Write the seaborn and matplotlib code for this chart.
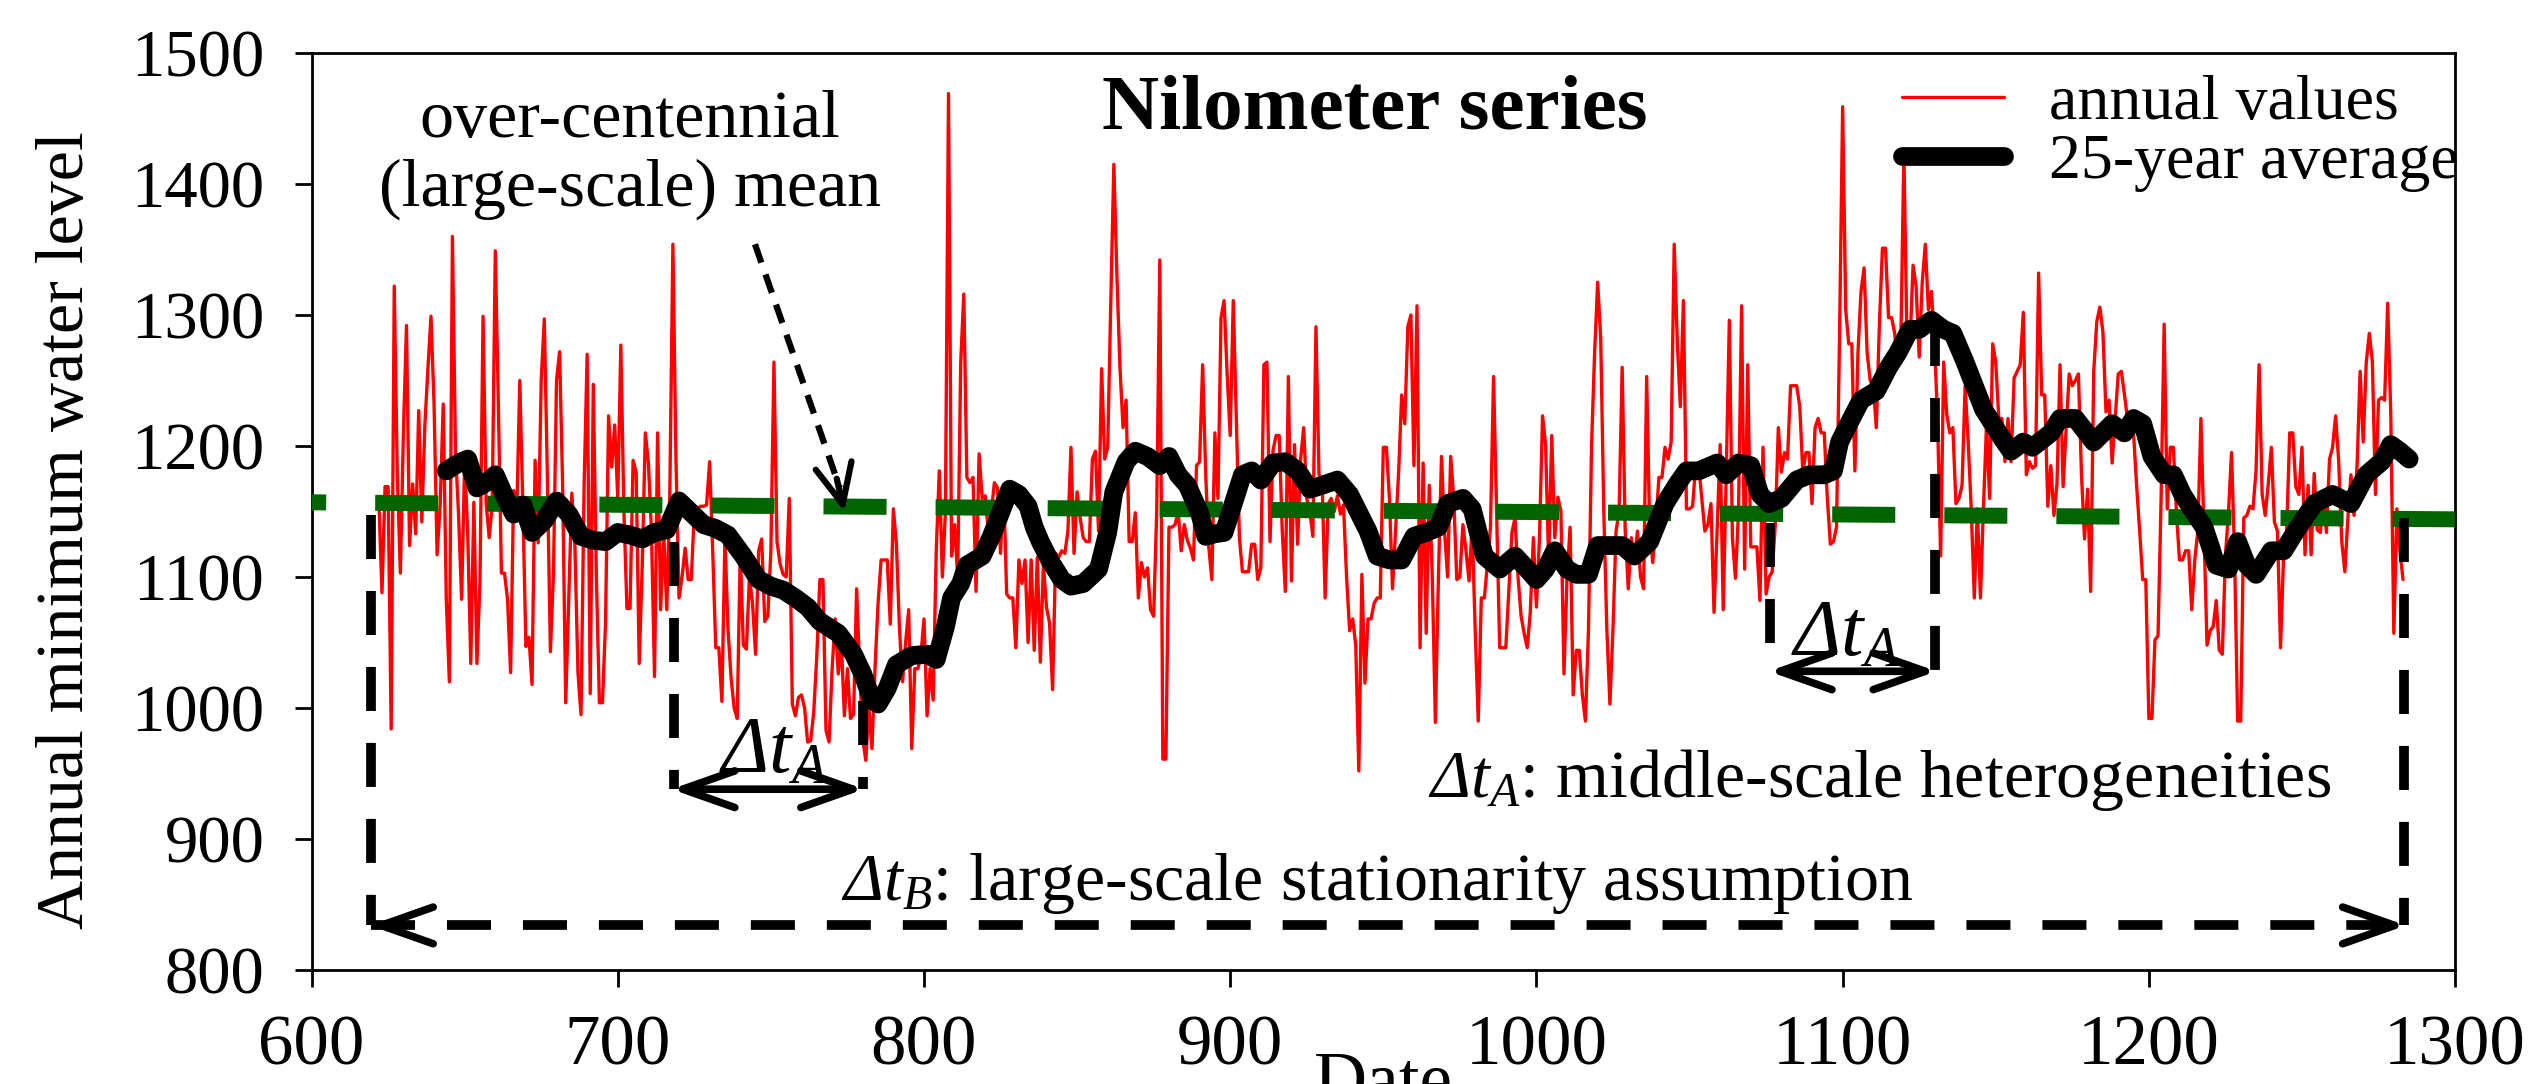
import numpy as np
import pandas as pd
import seaborn as sns
import matplotlib
matplotlib.use('Agg')
import matplotlib.pyplot as plt

# annual minimum levels, one value per year starting at 622
annual_level = [
    1157, 1088, 1169, 1169, 984, 1322, 1178, 1103, 1211, 1292, 1124, 1171, 1133, 1227, 1142, 1216, 1259, 1299, 1232, 1117,
    1155, 1232, 1083, 1020, 1360, 1196, 1148, 1083, 1189, 1133, 1034, 1157, 1034, 1097, 1299, 1157, 1130, 1155, 1349, 1232,
    1103, 1103, 1083, 1027, 1166, 1148, 1250, 1155, 1047, 1054, 1018, 1189, 1126, 1250, 1297, 1178, 1043, 1103, 1250, 1272,
    1169, 1004, 1083, 1164, 1124, 1027, 995, 1169, 1270, 1011, 1247, 1101, 1004, 1004, 1065, 1223, 1184, 1216, 1160, 1277,
    1150, 1076, 1076, 1189, 1180, 1034, 1110, 1210, 1187, 1135, 1024, 1210, 1075, 1133, 1075, 1165, 1354, 1190, 1084, 1100,
    1122, 1098, 1098, 1150, 1152, 1154, 1154, 1155, 1188, 1120, 1046, 1046, 1005, 1130, 1060, 1023, 1000, 992, 1120, 1048,
    1045, 1100, 1080, 1041, 1120, 1129, 1066, 1070, 1120, 1264, 1127, 1110, 1102, 1100, 1160, 1003, 994, 1008, 1010, 1000,
    974, 975, 997, 1040, 1098, 1098, 983, 974, 1030, 1068, 1026, 1050, 994, 1030, 992, 995, 1091, 1030, 976, 960,
    1000, 969, 1030, 1080, 1113, 1113, 1113, 1064, 1152, 1125, 1060, 1020, 1050, 1075, 969, 1030, 1030, 1040, 1068, 994,
    1030, 1006, 1120, 1181, 1100, 1150, 1469, 1116, 1140, 1100, 1264, 1316, 1176, 1172, 1176, 1089, 1194, 1160, 1162, 1135,
    1150, 1172, 1168, 1118, 1170, 1087, 1084, 1084, 1046, 1113, 1095, 1113, 1050, 1113, 1044, 1115, 1035, 1110, 1077, 1065,
    1014, 1118, 1115, 1120, 1118, 1135, 1199, 1118, 1165, 1145, 1130, 1127, 1127, 1190, 1196, 1135, 1259, 1190, 1199, 1310,
    1415, 1330, 1260, 1214, 1235, 1127, 1127, 1149, 1084, 1111, 1100, 1107, 1075, 1070, 1150, 1342, 961, 961, 1138, 1138,
    1140, 1150, 1120, 1140, 1128, 1122, 1113, 1185, 1188, 1262, 1178, 1123, 1098, 1210, 1160, 1298, 1311, 1255, 1208, 1311,
    1220, 1130, 1104, 1104, 1104, 1125, 1125, 1098, 1107, 1262, 1264, 1127, 1197, 1208, 1208, 1135, 1089, 1253, 1097, 1201,
    1125, 1190, 1214, 1160, 1150, 1131, 1291, 1178, 1175, 1084, 1156, 1160, 1150, 1162, 1148, 1155, 1100, 1059, 1068, 1048,
    952, 1102, 1019, 1068, 1068, 1080, 1084, 1084, 1199, 1199, 1160, 1091, 1135, 1180, 1239, 1217, 1291, 1300, 1185, 1307,
    1046, 1187, 1057, 1170, 1100, 989, 1100, 1192, 1135, 1100, 1192, 1160, 1098, 1100, 1140, 1120, 1097, 1140, 1060, 990,
    1084, 1084, 1110, 1138, 1253, 1150, 1046, 1046, 1046, 1090, 1134, 1145, 1100, 1070, 1057, 1046, 1073, 1130, 1077, 1130,
    1223, 1201, 1110, 1208, 1130, 1161, 1150, 1026, 1100, 1138, 1010, 1044, 1044, 1010, 990, 1060, 1200, 1271, 1325, 1282,
    1150, 1060, 1003, 1060, 1135, 1150, 1260, 1135, 1091, 1130, 1113, 1135, 1100, 1091, 1253, 1135, 1111, 1140, 1176, 1176,
    1199, 1190, 1203, 1354, 1280, 1230, 1311, 1152, 1152, 1154, 1185, 1185, 1160, 1135, 1140, 1156, 1073, 1135, 1201, 1075,
    1180, 1296, 1130, 1099, 1150, 1307, 1106, 1262, 1123, 1123, 1123, 1082, 1199, 1087, 1100, 1104, 1140, 1214, 1180, 1195,
    1190, 1246, 1246, 1246, 1230, 1180, 1195, 1195, 1156, 1214, 1221, 1210, 1210, 1160, 1125, 1127, 1138, 1286, 1459, 1304,
    1278, 1278, 1181, 1271, 1318, 1336, 1271, 1250, 1246, 1214, 1293, 1351, 1351, 1298, 1298, 1286, 1264, 1278, 1424, 1282,
    1278, 1338, 1322, 1268, 1325, 1354, 1304, 1318, 1278, 1221, 1116, 1264, 1224, 1210, 1214, 1156, 1160, 1170, 1246, 1203,
    1152, 1084, 1152, 1084, 1154, 1217, 1160, 1278, 1264, 1221, 1221, 1188, 1221, 1188, 1252, 1257, 1262, 1302, 1178, 1188,
    1183, 1185, 1332, 1239, 1239, 1154, 1185, 1147, 1171, 1262, 1169, 1214, 1255, 1246, 1250, 1255, 1178, 1129, 1167, 1089,
    1257, 1295, 1306, 1287, 1226, 1235, 1187, 1221, 1255, 1257, 1240, 1221, 1210, 1210, 1170, 1135, 1098, 1098, 992, 992,
    1052, 1055, 1160, 1293, 1152, 1199, 1199, 1150, 1113, 1113, 1120, 1120, 1075, 1113, 1135, 1221, 1135, 1048, 1059, 1062,
    1082, 1044, 1041, 1116, 1149, 1195, 1116, 990, 990, 1145, 1147, 1154, 1152, 1181, 1262, 1163, 1147, 1171, 1199, 1142,
    1135, 1046, 1116, 1135, 1210, 1210, 1169, 1163, 1199, 1117, 1170, 1117, 1179, 1136, 1134, 1160, 1134, 1190, 1199, 1223,
    1188, 1127, 1104, 1145, 1178, 1147, 1185, 1257, 1203, 1264, 1286, 1264, 1163, 1235, 1237, 1235, 1309, 1225, 1057, 1152,
    1120, 1098,
]
annual_years = np.arange(622, 622 + len(annual_level))

# 25-year average
avg_years = [644, 648, 651, 654, 657, 660, 663, 666, 669, 672, 676, 680, 684, 688, 692, 696, 700, 704, 708, 712,
             716, 720, 724, 728, 732, 736, 741, 746, 750, 754, 758, 762, 766, 772, 777, 780, 783, 785, 788, 791,
             796, 801, 804, 807, 809, 812, 814, 819, 822, 825, 828, 831, 834, 836, 838, 841, 845, 848, 852, 857,
             860, 862, 866, 869, 873, 877, 880, 883, 886, 890, 892, 895, 898, 901, 904, 907, 910, 914, 918, 922,
             926, 930, 935, 939, 942, 945, 948, 952, 956, 960, 964, 968, 971, 976, 979, 983, 988, 993, 997, 1000,
             1003, 1006, 1010, 1013, 1017, 1020, 1025, 1028, 1032, 1037, 1042, 1046, 1049, 1053, 1059, 1062, 1066, 1070, 1073, 1076,
             1080, 1085, 1089, 1094, 1097, 1099, 1102, 1106, 1111, 1115, 1118, 1122, 1125, 1129, 1133, 1136, 1140, 1143, 1146, 1149,
             1152, 1155, 1159, 1162, 1168, 1171, 1176, 1182, 1185, 1188, 1192, 1195, 1198, 1201, 1205, 1208, 1211, 1214, 1218, 1220,
             1222, 1226, 1229, 1232, 1235, 1240, 1244, 1248, 1254, 1260, 1266, 1271, 1276, 1279, 1282, 1285]
avg_level = [1181, 1187, 1190, 1168, 1172, 1178, 1162, 1148, 1155, 1134, 1143, 1158, 1148, 1131, 1128, 1127, 1134, 1132, 1129, 1134,
             1136, 1158, 1149, 1140, 1137, 1132, 1116, 1098, 1093, 1090, 1084, 1077, 1066, 1057, 1041, 1026, 1006, 1003, 1015, 1033,
             1040, 1041, 1037, 1062, 1084, 1095, 1109, 1116, 1131, 1149, 1167, 1163, 1154, 1138, 1127, 1113, 1098, 1093, 1095, 1106,
             1134, 1165, 1188, 1196, 1192, 1185, 1192, 1178, 1170, 1149, 1131, 1133, 1134, 1156, 1178, 1181, 1174, 1187, 1188, 1181,
             1167, 1170, 1174, 1163, 1149, 1135, 1116, 1113, 1113, 1131, 1134, 1138, 1156, 1160, 1152, 1116, 1106, 1116, 1106, 1098,
             1106, 1120, 1106, 1102, 1102, 1124, 1124, 1124, 1116, 1127, 1156, 1171, 1181, 1181, 1187, 1178, 1187, 1185, 1163, 1156,
             1160, 1174, 1178, 1178, 1181, 1203, 1217, 1235, 1242, 1260, 1271, 1289, 1289, 1296, 1289, 1286, 1264, 1246, 1228, 1217,
             1206, 1196, 1203, 1199, 1210, 1221, 1221, 1203, 1210, 1217, 1210, 1221, 1217, 1192, 1178, 1178, 1163, 1152, 1138, 1124,
             1109, 1106, 1127, 1109, 1102, 1120, 1120, 1135, 1156, 1163, 1156, 1178, 1188, 1201, 1196, 1190]

# over-centennial mean (green dashed line)
mean_years = [600, 1300]
mean_level = [1157, 1144]

x_ticks = [600, 700, 800, 900, 1000, 1100, 1200, 1300]
y_ticks = [800, 900, 1000, 1100, 1200, 1300, 1400, 1500]

sns.set_style('ticks')
plt.rcParams['font.family'] = ['Liberation Serif', 'DejaVu Serif']
plt.rcParams['mathtext.fontset'] = 'custom'
plt.rcParams['mathtext.rm'] = 'Liberation Serif:italic'
plt.rcParams['mathtext.it'] = 'Liberation Serif:italic'
plt.rcParams['lines.scale_dashes'] = False
plt.rcParams['text.color'] = 'black'
plt.rcParams['axes.labelcolor'] = 'black'

fig = plt.figure(figsize=(25.31, 10.84), dpi=100)
ax = fig.add_axes([0.1231, 0.1052, 0.8469, 0.8459])

annual = pd.DataFrame({'year': annual_years, 'level': annual_level})
avg = pd.DataFrame({'year': avg_years, 'level': avg_level})
mean = pd.DataFrame({'year': mean_years, 'level': mean_level})

sns.lineplot(data=annual, x='year', y='level', color='red', lw=2.4, estimator=None, ax=ax, zorder=2)
red_line = ax.lines[-1]
sns.lineplot(data=mean, x='year', y='level', color='#006400', lw=11.5, estimator=None, ax=ax, zorder=3,
             linestyle=(34.9, (45.4, 35.3)))
sns.lineplot(data=avg, x='year', y='level', color='black', lw=13.5, estimator=None, ax=ax, zorder=4,
             solid_capstyle='round', solid_joinstyle='round')
black_line = ax.lines[-1]

ax.set_xlim(600, 1300)
ax.set_ylim(800, 1500)
ax.set_xticks(x_ticks)
ax.set_yticks(y_ticks)
ax.tick_params(direction='out', length=12, width=2, colors='black')
ax.tick_params(axis='y', labelsize=48, pad=22)
ax.tick_params(axis='x', labelsize=51, pad=20)
for s in ax.spines.values():
    s.set_linewidth(2)
    s.set_color('black')

ax.set_ylabel('Annual minimum water level', fontsize=49)
ax.yaxis.set_label_coords(-0.1, 0.48)
ax.set_xlabel('Date', fontsize=53)
ax.xaxis.set_label_coords(0.5, -0.088)

ax.text(0.496, 0.938, 'Nilometer series', transform=ax.transAxes, ha='center', va='center',
        fontsize=57, fontweight='bold')

ax.legend(handles=[red_line, black_line], labels=['annual values', '25-year average'],
          loc='upper right', bbox_to_anchor=(1.003, 0.98), frameon=False, fontsize=46,
          handlelength=1.6, handletextpad=0.7, labelspacing=0.0, borderaxespad=0.0, borderpad=0.05)

# dashed markers and arrows
dash_kw = dict(color='black', lw=7, linestyle=(0, (31.7, 23)), solid_capstyle='butt', zorder=5)
arrow_kw = dict(lw=5.5, color='black', shrinkA=0, shrinkB=0, mutation_scale=22,
                capstyle='round', joinstyle='round')


def head(tip, tail, lw=5.5, hl=1.7, hw=0.6):
    ax.annotate('', xy=tip, xytext=tail,
                arrowprops=dict(arrow_kw, arrowstyle=f'->,head_length={hl},head_width={hw}', lw=lw),
                zorder=6)


# large-scale span
ax.plot([619.5, 619.5], [1147, 834], **dash_kw)
ax.plot([1283.3, 1283.3], [1145, 834], **dash_kw)
ax.plot([619.5, 1283.3], [834, 834], **dash_kw)
head((619, 834), (628, 834))
head((1284, 834), (1275, 834))
ax.text(948, 866, r'$\Delta t_B$: large-scale stationarity assumption', ha='center', va='center', fontsize=49)

# middle-scale spans
ax.plot([718.2, 718.2], [1127, 938], **dash_kw)
ax.plot([780, 780], [1005, 938], **dash_kw)
ax.annotate('', xy=(717.5, 938), xytext=(780.5, 938),
            arrowprops=dict(arrow_kw, arrowstyle='<->,head_length=1.7,head_width=0.6'), zorder=6)
ax.text(751, 965, r'$\Delta t_A$', ha='center', va='center', fontsize=58)

ax.plot([1076.3, 1076.3], [1141, 1028], **dash_kw)
ax.plot([1130.2, 1130.2], [1295, 1028], **dash_kw)
ax.annotate('', xy=(1075.8, 1028), xytext=(1130.7, 1028),
            arrowprops=dict(arrow_kw, arrowstyle='<->,head_length=1.7,head_width=0.6'), zorder=6)
ax.text(1101, 1055, r'$\Delta t_A$', ha='center', va='center', fontsize=58)
ax.text(1112, 945, r'$\Delta t_A$: middle-scale heterogeneities', ha='center', va='center', fontsize=49)

# pointer to the mean line
ax.text(704, 1422, 'over-centennial\n(large-scale) mean', ha='center', va='center', fontsize=49,
        linespacing=1.15)
ax.plot([744.8, 772.5], [1354, 1168], color='black', lw=4.5, linestyle=(0, (14, 9)), zorder=5)
head((774, 1150), (771.5, 1175), lw=4.5, hl=1.3, hw=0.6)

plt.savefig('out.png', dpi=100)
